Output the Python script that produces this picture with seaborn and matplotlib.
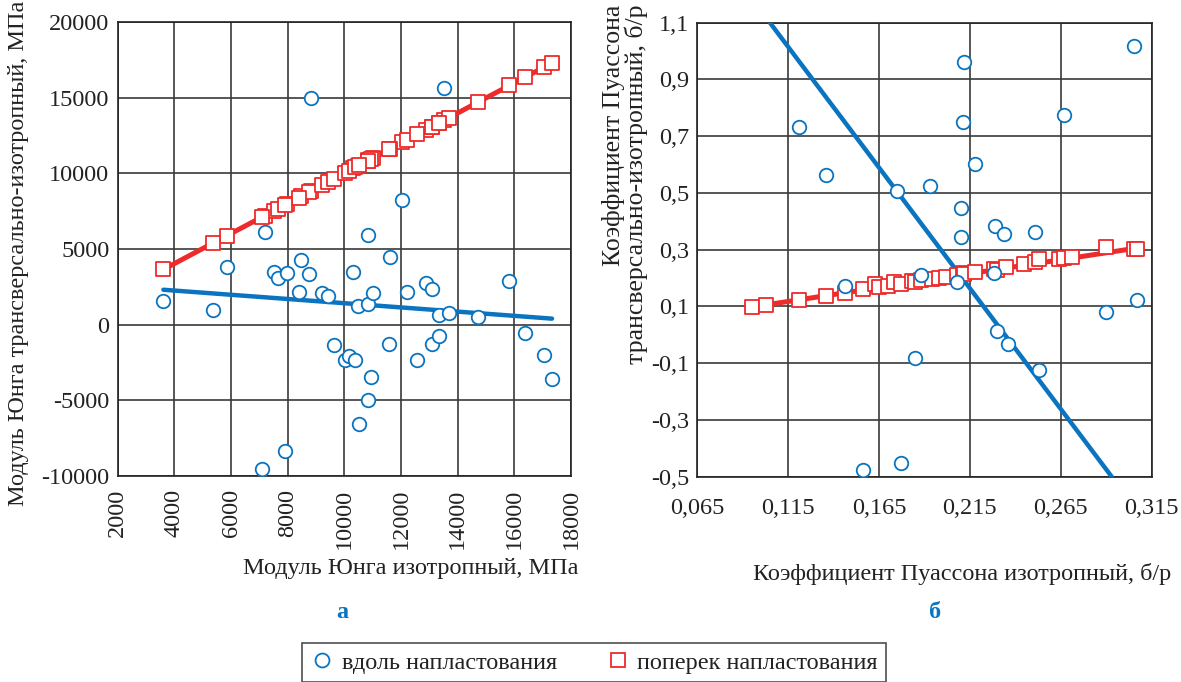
import matplotlib
matplotlib.use("Agg")
import matplotlib.pyplot as plt
from matplotlib.lines import Line2D
import seaborn as sns

# ---------------- data: panel a (Young's modulus, MPa) ----------------
young_iso = [8810, 13520, 12040, 7200, 10850, 5860, 3610, 5360, 8480, 7530,
             7650, 7980, 8740, 8390, 9210, 9410, 10320, 10470, 10840, 11000,
             11610, 12210, 12870, 13080, 13340, 13680, 14710, 15810, 16390, 17040,
             17330, 9650, 10010, 10150, 10380, 11570, 10930, 10820, 10530, 12570,
             13080, 13330, 7900, 7090]
young_along = [14960, 15660, 8240, 6100, 5900, 3790, 1540, 970, 4280, 3500,
               3060, 3410, 3350, 2180, 2070, 1890, 3480, 1260, 1340, 2090,
               4490, 2160, 2780, 2380, 640, 770, 490, 2890, -530, -2030,
               -3590, -1340, -2360, -2090, -2310, -1300, -3460, -4960, -6590, -2360,
               -1280, -770, -8350, -9560]
young_across = [8830, 13530, 12050, 7210, 10860, 5870, 3650, 5380, 8490, 7540,
                7660, 7990, 8750, 8400, 9220, 9420, 10330, 10480, 10850, 11010,
                11620, 12220, 12880, 13090, 13350, 13690, 14720, 15820, 16400, 17050,
                17300, 9660, 10020, 10160, 10390, 11580, 10940, 10830, 10540, 12580,
                13090, 13340, 7910, 7100]
young_trend_x = [3610, 17330]
young_trend_along = [2310, 400]
young_trend_across = [3650, 17300]

# ---------------- data: panel b (Poisson's ratio, -) ----------------
pois_iso_along = [0.305, 0.212, 0.121, 0.211, 0.267, 0.136, 0.218, 0.175, 0.193, 0.210,
                  0.210, 0.229, 0.234, 0.251, 0.146, 0.188, 0.208, 0.228, 0.290, 0.307,
                  0.230, 0.236, 0.253, 0.185, 0.177, 0.156]
pois_along = [1.017, 0.960, 0.732, 0.750, 0.773, 0.565, 0.603, 0.506, 0.526, 0.448,
              0.345, 0.384, 0.354, 0.361, 0.172, 0.211, 0.185, 0.217, 0.080, 0.122,
              0.014, -0.033, -0.123, -0.083, -0.452, -0.477]
pois_iso_across = [0.095, 0.103, 0.121, 0.136, 0.146, 0.156, 0.163, 0.165, 0.170, 0.173,
                   0.177, 0.183, 0.185, 0.188, 0.194, 0.198, 0.202, 0.208, 0.211, 0.212,
                   0.218, 0.228, 0.230, 0.235, 0.245, 0.251, 0.253, 0.264, 0.267, 0.271,
                   0.290, 0.305, 0.307]
pois_across = [0.097, 0.104, 0.122, 0.137, 0.148, 0.163, 0.180, 0.170, 0.172, 0.185,
               0.179, 0.190, 0.186, 0.193, 0.196, 0.200, 0.204, 0.210, 0.218, 0.215,
               0.223, 0.232, 0.230, 0.240, 0.248, 0.255, 0.268, 0.266, 0.272, 0.275,
               0.310, 0.304, 0.304]
pois_trend_x_along = [0.105, 0.293]
pois_trend_along = [1.1, -0.5]
pois_trend_x_across = [0.095, 0.307]
pois_trend_across = [0.098, 0.306]

young_xticks = [2000, 4000, 6000, 8000, 10000, 12000, 14000, 16000, 18000]
young_yticks = [-10000, -5000, 0, 5000, 10000, 15000, 20000]
pois_xticks = [0.065, 0.115, 0.165, 0.215, 0.265, 0.315]
pois_yticks = [-0.5, -0.3, -0.1, 0.1, 0.3, 0.5, 0.7, 0.9, 1.1]

label_along = "вдоль напластования"
label_across = "поперек напластования"

BLUE = "#0A74C0"
RED = "#EE2A2A"
GRID = "#3a3a3a"
TXT = "#222222"

sns.set_theme(style="white")
plt.rcParams["font.family"] = ["Liberation Serif", "DejaVu Serif"]
plt.rcParams["axes.unicode_minus"] = False
FS = 17.5

fig = plt.figure(figsize=(11.81, 6.82), dpi=100)
ax1 = fig.add_axes([0.0997, 0.302, 0.3838, 0.6657])
ax2 = fig.add_axes([0.5904, 0.301, 0.3848, 0.6657])


def style_axes(ax):
    ax.grid(True, color=GRID, linewidth=1.2)
    ax.set_axisbelow(True)
    for s in ax.spines.values():
        s.set_color(TXT)
        s.set_linewidth(1.2)
    ax.tick_params(length=0, labelsize=FS, colors=TXT)


# ---- panel a ----
sns.lineplot(x=young_trend_x, y=young_trend_along, ax=ax1, color=BLUE, linewidth=3.2,
             zorder=3, legend=False)
sns.lineplot(x=young_trend_x, y=young_trend_across, ax=ax1, color=RED, linewidth=3.6,
             zorder=3, legend=False)
sns.scatterplot(x=young_iso, y=young_along, ax=ax1, marker="o", s=95, facecolor="white",
                edgecolor=BLUE, linewidth=1.3, zorder=4)
sns.scatterplot(x=young_iso, y=young_across, ax=ax1, marker="s", s=110, facecolor="white",
                edgecolor=RED, linewidth=1.3, zorder=4)
ax1.set_xlim(2000, 18000)
ax1.set_ylim(-10000, 20000)
ax1.set_xticks(young_xticks)
ax1.set_yticks(young_yticks)
ax1.set_xticklabels([str(v) for v in young_xticks], rotation=90)
style_axes(ax1)
ax1.tick_params(axis="x", pad=9)
ax1.tick_params(axis="y", pad=6)
ax1.set_xlabel("Модуль Юнга изотропный, МПа", fontsize=FS, color=TXT)
ax1.set_ylabel("Модуль Юнга трансверсально-изотропный, МПа", fontsize=FS, color=TXT)
ax1.xaxis.set_label_coords(0.647, -0.18)
ax1.yaxis.set_label_coords(-0.195, 0.49)

# ---- panel b ----
sns.lineplot(x=pois_trend_x_across, y=pois_trend_across, ax=ax2, color=RED, linewidth=3.6,
             zorder=3, legend=False)
sns.lineplot(x=pois_trend_x_along, y=pois_trend_along, ax=ax2, color=BLUE, linewidth=3.2,
             zorder=3, legend=False)
sns.scatterplot(x=pois_iso_across, y=pois_across, ax=ax2, marker="s", s=110, facecolor="white",
                edgecolor=RED, linewidth=1.3, zorder=4)
sns.scatterplot(x=pois_iso_along, y=pois_along, ax=ax2, marker="o", s=95, facecolor="white",
                edgecolor=BLUE, linewidth=1.3, zorder=5)
ax2.set_xlim(0.065, 0.315)
ax2.set_ylim(-0.5, 1.1)
ax2.set_xticks(pois_xticks)
ax2.set_yticks(pois_yticks)
ax2.set_xticklabels([f"{v:.3f}".replace(".", ",") for v in pois_xticks])
ax2.set_yticklabels([f"{v:.1f}".replace(".", ",") for v in pois_yticks])
style_axes(ax2)
ax2.tick_params(axis="x", pad=15)
ax2.tick_params(axis="y", pad=6)
ax2.set_xlabel("Коэффициент Пуассона изотропный, б/р", fontsize=FS, color=TXT)
ax2.set_ylabel("Коэффициент Пуассона\nтрансверсально-изотропный, б/р", fontsize=18.5,
               color=TXT, multialignment="right", linespacing=1.0)
ax2.xaxis.set_label_coords(0.583, -0.19)
ax2.yaxis.set_label_coords(-0.108, 0.645)

# panel letters
fig.text(342 / 1181, 1 - 612 / 682, "а", fontsize=FS, fontweight="bold", color=BLUE,
         ha="center", va="center")
fig.text(935 / 1181, 1 - 612 / 682, "б", fontsize=FS, fontweight="bold", color=BLUE,
         ha="center", va="center")

handles = [
    Line2D([], [], linestyle="none", marker="o", markersize=10, markerfacecolor="white",
           markeredgecolor=BLUE, markeredgewidth=1.3, label=label_along),
    Line2D([], [], linestyle="none", marker="s", markersize=10.5, markerfacecolor="white",
           markeredgecolor=RED, markeredgewidth=1.3, label=label_across),
]
leg = fig.legend(handles=handles, loc="center", bbox_to_anchor=(0.503, 0.028), ncol=2,
                 fontsize=FS, frameon=True, fancybox=False, edgecolor=TXT,
                 handletextpad=0.3, columnspacing=2.0, borderpad=0.35, handlelength=1.0,
                 labelcolor=TXT)
leg.get_frame().set_linewidth(1.2)

fig.savefig("out.png", dpi=100, facecolor="white")
